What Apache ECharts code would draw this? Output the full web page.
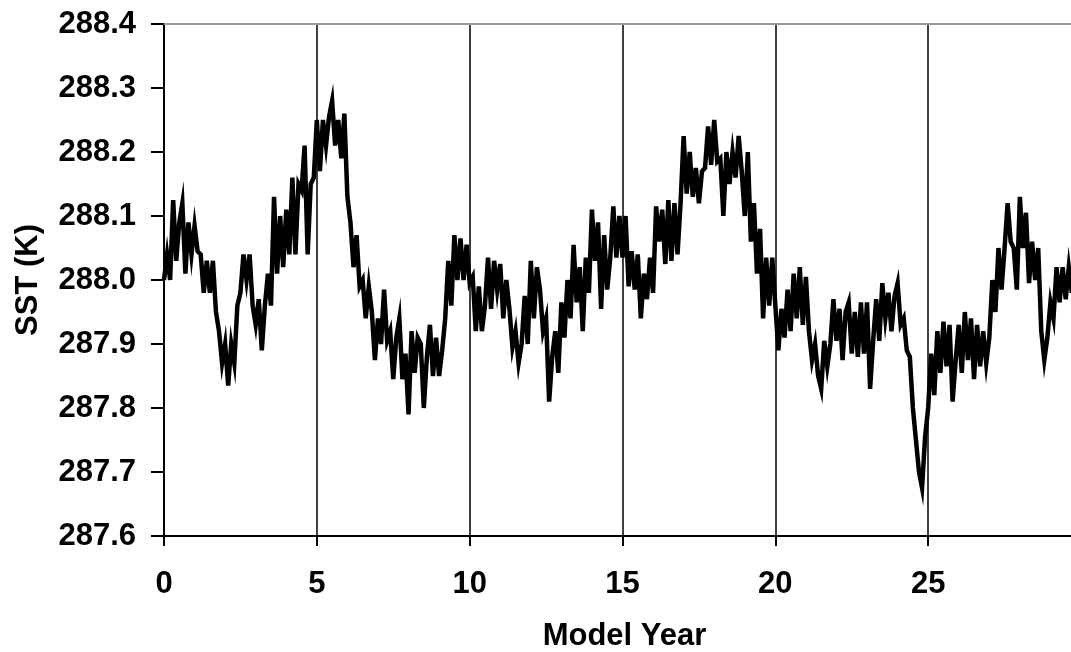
<!DOCTYPE html>
<html>
<head>
<meta charset="utf-8">
<script src="https://cdn.jsdelivr.net/npm/echarts@6/dist/echarts.min.js"></script>
<style>
html,body{margin:0;padding:0;background:#fff;overflow:hidden;}
#chart{width:1071px;height:652px;}
</style>
</head>
<body>
<div id="chart"></div>
<script>
// Time step between samples (model years)
const stepYears = 0.1;
// SST samples (K), one every 0.1 model year
const sst = [
288.0,288.04,288.0,288.125,288.03,288.09,288.12,288.01,288.09,288.04,
288.085,288.045,288.04,287.98,288.03,287.98,288.03,287.95,287.92,287.87,
287.9,287.835,287.9,287.87,287.96,287.98,288.04,288.0,288.04,287.96,
287.93,287.97,287.89,287.96,288.01,287.96,288.13,288.01,288.1,288.02,
288.11,288.04,288.16,288.04,288.15,288.14,288.21,288.04,288.15,288.16,
288.25,288.17,288.25,288.21,288.255,288.28,288.21,288.25,288.19,288.26,
288.13,288.09,288.02,288.07,287.99,288.0,287.94,287.99,287.95,287.875,
287.94,287.9,287.985,287.905,287.92,287.845,287.91,287.94,287.845,287.885,
287.79,287.92,287.855,287.91,287.9,287.8,287.88,287.93,287.85,287.91,
287.85,287.89,287.94,288.03,287.96,288.07,288.0,288.065,288.0,288.055,
287.995,288.005,287.92,287.99,287.92,287.96,288.035,287.955,288.03,287.985,
288.025,287.94,288.0,287.955,287.895,287.92,287.87,287.9,287.975,287.9,
288.03,287.94,288.02,287.985,287.92,287.94,287.81,287.88,287.92,287.855,
287.965,287.91,288.0,287.94,288.055,287.965,288.02,287.92,288.035,287.98,
288.11,288.03,288.09,287.955,288.07,287.985,288.035,288.115,288.035,288.1,
288.035,288.1,287.99,288.045,287.985,288.04,287.94,288.01,287.97,288.035,
287.98,288.115,288.06,288.11,288.025,288.125,288.03,288.12,288.04,288.12,
288.225,288.135,288.2,288.13,288.175,288.12,288.17,288.175,288.24,288.18,
288.25,288.185,288.19,288.1,288.2,288.15,288.2,288.16,288.225,288.17,
288.1,288.2,288.06,288.12,288.01,288.08,287.94,288.035,287.96,288.035,
287.96,287.89,287.955,287.91,287.985,287.92,288.01,287.94,288.02,287.93,
288.005,287.92,287.875,287.9,287.85,287.83,287.905,287.865,287.9,287.97,
287.905,287.955,287.875,287.95,287.965,287.885,287.95,287.88,287.965,287.885,
287.965,287.83,287.905,287.97,287.905,287.995,287.94,287.98,287.92,287.975,
287.995,287.93,287.94,287.89,287.88,287.8,287.75,287.7,287.675,287.755,
287.8,287.885,287.82,287.92,287.855,287.935,287.865,287.93,287.81,287.875,
287.93,287.855,287.95,287.875,287.94,287.845,287.93,287.865,287.92,287.87,
287.91,288.0,287.95,288.05,287.985,288.05,288.12,288.06,288.05,287.985,
288.13,288.05,288.105,287.995,288.06,288.0,288.05,287.92,287.875,287.91,
287.965,287.94,288.02,287.965,288.02,287.97,288.02,287.98
];
const xTicks = [0, 5, 10, 15, 20, 25];
const yTicks = ['287.6','287.7','287.8','287.9','288.0','288.1','288.2','288.3','288.4'];
const xTitle = 'Model Year';
const yTitle = 'SST (K)';

const points = sst.map((v, i) => [+(i * stepYears).toFixed(2), v]);

const font = '"Liberation Sans", Arial, sans-serif';
const chart = echarts.init(document.getElementById('chart'), null, {renderer: 'canvas'});
chart.setOption({
  animation: false,
  backgroundColor: '#fff',
  grid: {left: 164, right: -10, top: 24, bottom: 116, containLabel: false, outerBoundsMode: 'none'},
  xAxis: [{
    type: 'value',
    min: 0, max: 30, interval: 5,
    position: 'bottom',
    axisLine: {show: true, lineStyle: {color: '#000', width: 2}},
    axisTick: {show: true, inside: false, length: 10, lineStyle: {color: '#000', width: 2}},
    axisLabel: {
      margin: 33, color: '#000', fontFamily: font, fontWeight: 'bold', fontSize: 31,
      formatter: v => xTicks.includes(v) ? String(v) : ''
    },
    splitLine: {show: true, lineStyle: {color: '#000', width: 1.5}},
    name: xTitle, nameLocation: 'middle', nameGap: 85,
    nameTextStyle: {color: '#000', fontFamily: font, fontWeight: 'bold', fontSize: 31, padding: [0, 0, 0, 4]}
  }, {
    type: 'value',
    min: 0, max: 30,
    position: 'top',
    axisLine: {show: true, lineStyle: {color: '#9a9a9a', width: 2}},
    axisTick: {show: false}, axisLabel: {show: false}, splitLine: {show: false}
  }],
  yAxis: {
    type: 'value',
    min: 287.6, max: 288.4, interval: 0.1,
    axisLine: {show: true, lineStyle: {color: '#000', width: 2}},
    axisTick: {show: true, inside: false, length: 13, lineStyle: {color: '#000', width: 2}},
    axisLabel: {
      margin: 28, color: '#000', fontFamily: font, fontWeight: 'bold', fontSize: 31,
      formatter: v => { const s = v.toFixed(1); return yTicks.includes(s) ? s : ''; }
    },
    splitLine: {show: false},
    name: yTitle, nameLocation: 'middle', nameGap: 120, nameRotate: 90,
    nameTextStyle: {color: '#000', fontFamily: font, fontWeight: 'bold', fontSize: 31}
  },
  series: [{
    type: 'line',
    data: points,
    xAxisIndex: 0,
    showSymbol: false,
    symbol: 'none',
    lineStyle: {color: '#000', width: 4.5, join: 'miter'},
    silent: true
  }]
});
</script>
</body>
</html>
